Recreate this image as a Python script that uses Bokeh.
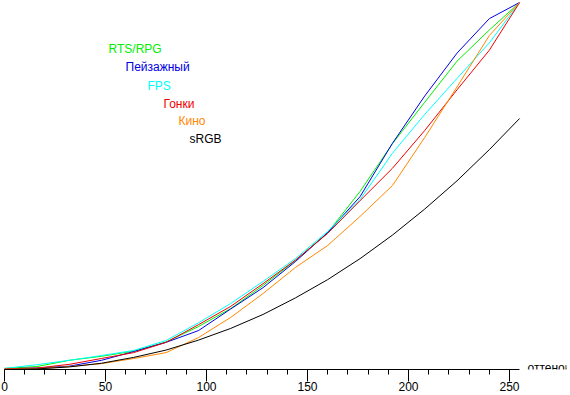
from bokeh.plotting import figure
from bokeh.models import Range1d, SingleIntervalTicker, Label
from bokeh.embed import file_html
from bokeh.resources import INLINE

x_levels = [0, 16, 32, 48, 64, 80, 96, 112, 128, 144, 160, 176, 192, 208, 224, 240, 255]

rts_rpg = [0.003, 0.008, 0.025, 0.036, 0.050, 0.075, 0.117, 0.166, 0.229, 0.297, 0.373, 0.485, 0.615, 0.728, 0.840, 0.925, 1.0]
landscape = [0.002, 0.004, 0.009, 0.025, 0.049, 0.074, 0.106, 0.165, 0.223, 0.294, 0.373, 0.471, 0.616, 0.745, 0.862, 0.956, 1.0]
fps = [0.003, 0.013, 0.025, 0.038, 0.052, 0.079, 0.127, 0.180, 0.240, 0.302, 0.376, 0.463, 0.589, 0.695, 0.793, 0.890, 1.0]
racing = [0.002, 0.004, 0.014, 0.030, 0.046, 0.074, 0.122, 0.172, 0.234, 0.298, 0.371, 0.460, 0.548, 0.651, 0.762, 0.870, 1.0]
cinema = [0.001, 0.002, 0.008, 0.016, 0.030, 0.046, 0.087, 0.142, 0.207, 0.278, 0.338, 0.417, 0.501, 0.632, 0.770, 0.910, 1.0]
srgb = [0.0, 0.0015, 0.007, 0.017, 0.033, 0.053, 0.080, 0.112, 0.150, 0.195, 0.245, 0.302, 0.366, 0.437, 0.514, 0.599, 0.684]

series_names = ["RTS/RPG", "Пейзажный", "FPS", "Гонки", "Кино", "sRGB"]
series_values = [rts_rpg, landscape, fps, racing, cinema, srgb]
series_colors = ["#00f000", "#0000e6", "#00ffff", "#f00000", "#ff8800", "#000000"]

axis_ticks = [0, 50, 100, 150, 200, 250]
axis_title = "оттенок"

FONT = "Liberation Sans"

p = figure(width=570, height=395, output_backend="svg", toolbar_location=None,
           x_range=Range1d(0, 278.2), y_range=Range1d(0, 1.0054),
           y_axis_location=None, min_border_left=4, min_border_right=4,
           min_border_top=0, min_border_bottom=26)
p.margin = (0, -8, -8, 0)
p.outline_line_color = None
p.grid.visible = False
p.background_fill_color = "white"
p.border_fill_color = "white"

for vals, col in zip(series_values, series_colors):
    p.line(x_levels, vals, line_color=col, line_width=1)

ax = p.xaxis[0]
ax.ticker = SingleIntervalTicker(interval=50, num_minor_ticks=5)
ax.bounds = (0, 255)
ax.axis_line_color = "black"
ax.axis_line_width = 1
ax.major_tick_in = 0
ax.major_tick_out = 12
ax.minor_tick_in = 0
ax.minor_tick_out = 5
ax.major_tick_line_color = "black"
ax.minor_tick_line_color = "black"
ax.major_label_standoff = 0
ax.major_label_text_font = FONT
ax.major_label_text_font_size = "12px"
ax.major_label_text_color = "black"

p.add_layout(Label(x=258.9, y=0.003, text=axis_title, text_font=FONT,
                   text_font_size="12px", text_color="black",
                   text_baseline="middle", text_align="left"))

legend_x = [51.5, 59.9, 70.8, 78.7, 86.1, 91.6]
legend_y = [0.873, 0.824, 0.773, 0.724, 0.678, 0.629]
for name, col, lx, ly in zip(series_names, series_colors, legend_x, legend_y):
    p.add_layout(Label(x=lx, y=ly, text=name, text_font=FONT, text_font_size="12px",
                       text_color=col, text_baseline="middle", text_align="left"))

open("out.html", "w").write(file_html(p, INLINE))
